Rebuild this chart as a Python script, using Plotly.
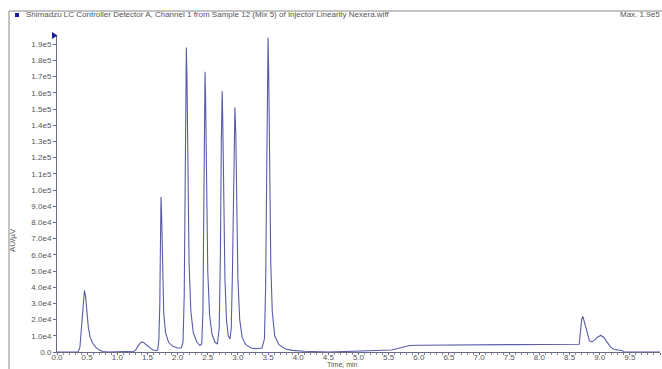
import plotly.graph_objects as go

time_min = [0.0, 0.35, 0.38, 0.41, 0.43, 0.455, 0.475, 0.50, 0.52, 0.55, 0.59, 0.64, 0.70, 0.76, 0.85,
            1.28, 1.31, 1.34, 1.38, 1.41, 1.44, 1.48, 1.53, 1.58, 1.64, 1.67, 1.69, 1.705, 1.715, 1.725,
            1.735, 1.75, 1.77, 1.80, 1.85, 1.92, 2.00, 2.06, 2.09, 2.11, 2.125, 2.135, 2.145, 2.155, 2.17,
            2.19, 2.22, 2.26, 2.32, 2.37, 2.40, 2.42, 2.435, 2.445, 2.455, 2.465, 2.48, 2.50, 2.53, 2.57,
            2.62, 2.66, 2.69, 2.71, 2.725, 2.74, 2.75, 2.765, 2.785, 2.81, 2.84, 2.87, 2.89, 2.91, 2.93,
            2.95, 2.965, 2.98, 3.00, 3.03, 3.07, 3.13, 3.22, 3.32, 3.40, 3.44, 3.46, 3.475, 3.49, 3.50,
            3.51, 3.525, 3.545, 3.57, 3.61, 3.68, 3.78, 3.90, 4.10, 4.50, 5.00, 5.40, 5.55, 5.65, 5.75,
            5.85, 6.00, 7.00, 8.00, 8.66, 8.68, 8.70, 8.72, 8.75, 8.79, 8.83, 8.87, 8.92, 8.97, 9.02,
            9.07, 9.12, 9.18, 9.24, 9.30, 9.38, 9.40, 10.0]
intensity_1e4 = [0.0, 0.0, 0.3, 1.6, 3.0, 3.8, 3.4, 2.3, 1.5, 0.9, 0.55, 0.3, 0.12, 0.03, 0.0,
                 0.05, 0.15, 0.35, 0.55, 0.62, 0.58, 0.45, 0.28, 0.15, 0.08, 0.12, 0.8, 3.0, 6.5, 9.57,
                 8.5, 5.0, 2.4, 1.2, 0.6, 0.35, 0.25, 0.25, 0.6, 3.5, 10.0, 16.5, 18.8, 17.0, 11.0,
                 5.5, 2.5, 1.2, 0.6, 0.4, 0.5, 2.5, 9.0, 15.5, 17.3, 15.5, 10.0, 5.0, 2.3, 1.1,
                 0.6, 0.5, 1.5, 6.0, 13.0, 16.1, 14.0, 9.0, 4.5, 2.0, 1.0, 0.8, 1.5, 5.0, 11.5,
                 15.1, 13.5, 8.5, 4.5, 2.0, 0.9, 0.45, 0.25, 0.2, 0.25, 0.8, 4.0, 10.0, 17.0, 19.4,
                 17.5, 11.0, 5.5, 2.5, 1.0, 0.45, 0.2, 0.1, 0.05, 0.0, 0.05, 0.08, 0.12, 0.22, 0.33,
                 0.4, 0.42, 0.44, 0.46, 0.48, 1.2, 2.0, 2.2, 1.8, 1.1, 0.7, 0.62, 0.75, 0.95, 1.02,
                 0.9, 0.6, 0.3, 0.15, 0.1, 0.08, 0.0, 0.0]

y_tick_vals = [i * 1e4 for i in range(20)]
y_tick_text = ["0.0"] + [f"{i}.0e4" for i in range(1, 10)] + [f"1.{i}e5" for i in range(10)]
x_tick_vals = [i * 0.5 for i in range(21)]
x_tick_text = [f"{v:.1f}" for v in x_tick_vals[:-1]] + ["10"]

values = [v * 1e4 for v in intensity_1e4]

font = "Liberation Sans, Arial, sans-serif"
fig = go.Figure()
fig.add_trace(go.Scatter(x=time_min, y=values, mode="lines",
                         line=dict(color="#5a5caa", width=1.1), hoverinfo="skip"))

fig.update_layout(
    width=662, height=369,
    margin=dict(l=57, r=2, t=35, b=17),
    paper_bgcolor="white", plot_bgcolor="white",
    showlegend=False,
    font=dict(family=font, size=8, color="#555555"),
    xaxis=dict(range=[0, 10], tickvals=x_tick_vals, ticktext=x_tick_text,
               showgrid=False, zeroline=False, showline=True, linecolor="#6a6a8a", linewidth=1,
               ticks="outside", ticklen=2, tickcolor="#6a6a8a", ticklabelstandoff=-5,
               minor=dict(dtick=0.1, ticks="outside", ticklen=2, tickcolor="#8a8aa0"),
               tickfont=dict(size=8, color="#555555")),
    yaxis=dict(range=[0, 195700], tickvals=y_tick_vals, ticktext=y_tick_text,
               showgrid=False, zeroline=False, showline=True, linecolor="#6a6a8a", linewidth=1,
               ticks="outside", ticklen=3, tickcolor="#6a6a8a",
               tickfont=dict(size=8, color="#555555")),
    shapes=[
        dict(type="line", xref="paper", yref="paper", x0=-48/603, x1=1.004, y0=1+24/317, y1=1+24/317,
             line=dict(color="#888888", width=1)),
        dict(type="line", xref="paper", yref="paper", x0=-48/603, x1=-48/603, y0=1+24/317, y1=-17/317,
             line=dict(color="#888888", width=1)),
        dict(type="rect", xref="paper", yref="paper", x0=-42/603, x1=-38/603, y0=1+18/317, y1=1+22/317,
             fillcolor="#1a1aa0", line=dict(width=0)),
        dict(type="path", xref="paper", yref="paper",
             path=f"M {-5/603} {1+3/317} L {0.5/603} {1-0.5/317} L {-5/603} {1-4/317} Z",
             fillcolor="#1a1aa0", line=dict(width=0)),
    ],
    annotations=[
        dict(text="Shimadzu LC Controller Detector A, Channel 1 from Sample 12 (Mix 5) of Injector Linearity Nexera.wiff",
             xref="paper", yref="paper", x=-33/603, y=1+20/317, xanchor="left", yanchor="middle",
             showarrow=False, font=dict(size=8, color="#555555")),
        dict(text="Max. 1.9e5", xref="paper", yref="paper", x=1+2/603, y=1+20/317, xanchor="right",
             yanchor="middle", showarrow=False, font=dict(size=8, color="#555555")),
        dict(text="Time, min", xref="paper", yref="paper", x=285/603, y=-17.5/317, xanchor="center",
             yanchor="bottom", showarrow=False, font=dict(size=7, color="#555555")),
        dict(text="AU/µV", xref="paper", yref="paper", x=-45/603, y=112/317, xanchor="center",
             yanchor="middle", textangle=-90, showarrow=False, font=dict(size=8, color="#555555")),
    ],
)

fig.write_html("out.html", config={"displayModeBar": False},
               post_script="document.body.style.margin='0px';document.body.style.overflow='hidden';")
